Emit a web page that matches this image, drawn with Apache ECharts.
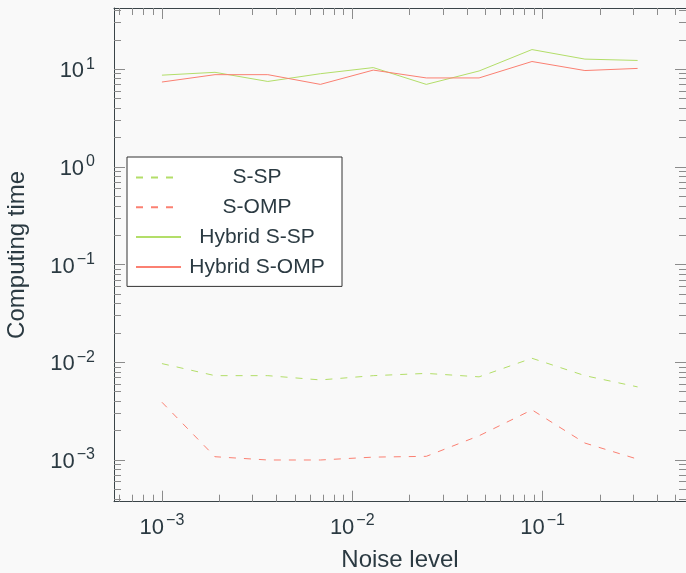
<!DOCTYPE html>
<html>
<head>
<meta charset="utf-8">
<script src="https://cdn.jsdelivr.net/npm/echarts@6/dist/echarts.min.js"></script>
<style>
html,body{margin:0;padding:0;background:#f9f9f9;}
#chart{width:686px;height:573px;}
</style>
</head>
<body>
<div id="chart"></div>
<script>
// ---- data ----
const noiseLevels = [0.001, 0.0019, 0.0036, 0.0068, 0.0129, 0.0245, 0.0464, 0.088, 0.167, 0.316];
const sSP        = [0.0097, 0.0073, 0.0073, 0.0066, 0.0073, 0.0077, 0.0071, 0.0110, 0.0073, 0.0056];
const sOMP       = [0.0039, 0.00108, 0.00100, 0.00100, 0.00107, 0.00109, 0.00177, 0.00326, 0.00149, 0.00102];
const hybridSSP  = [8.7, 9.3, 7.5, 9.0, 10.4, 7.0, 9.6, 15.9, 12.7, 12.3];
const hybridSOMP = [7.4, 8.8, 8.8, 7.0, 9.8, 8.15, 8.15, 12.0, 9.7, 10.2];
const seriesNames = ['S-SP', 'S-OMP', 'Hybrid S-SP', 'Hybrid S-OMP'];
const xTickValues = [0.001, 0.01, 0.1];
const yTickValues = [0.001, 0.01, 0.1, 1, 10];

// axis ranges (log)
const xMin = Math.pow(10, -3.252), xMax = Math.pow(10, -0.246);
const yMin = Math.pow(10, -3.427), yMax = Math.pow(10, 1.627);

function minorTicks(lo, hi) {
  const out = [];
  for (let e = Math.floor(Math.log10(lo)); e <= Math.ceil(Math.log10(hi)); e++) {
    for (let m = 2; m <= 9; m++) {
      const v = m * Math.pow(10, e);
      if (v > lo && v < hi) out.push(v);
    }
  }
  return out;
}
const xMinor = minorTicks(xMin, xMax);
const yMinor = minorTicks(yMin, yMax);

const GREEN = '#b3de69', RED = '#fb8072';
const TXT = '#2b3a42', AXIS = '#3a4448', TICK = '#8c8c8c';
const FONT2 = "'Liberation Sans', sans-serif";

function powLabel(v) {
  const e = Math.round(Math.log10(v));
  return '{b|10}{s|' + (e < 0 ? '\u2212' + (-e) : e) + '}';
}
const labelRich = {
  b: { fontFamily: FONT2, fontSize: 22, color: TXT, verticalAlign: 'bottom', lineHeight: 26 },
  s: { fontFamily: FONT2, fontSize: 16, color: TXT, verticalAlign: 'top', lineHeight: 26, padding: [0, 0, 0, 2] }
};

function mkX(pos, major, showLabel) {
  return {
    type: 'log', logBase: 10, min: xMin, max: xMax, position: pos,
    axisLine: { show: major, lineStyle: { color: AXIS, width: 1 } },
    axisTick: { show: true, inside: true, length: major ? 11 : 7,
      customValues: major ? xTickValues : xMinor,
      lineStyle: { color: TICK, width: 1 } },
    minorTick: { show: false },
    splitLine: { show: false },
    axisLabel: showLabel ? {
      show: true, customValues: xTickValues, formatter: powLabel, rich: labelRich, margin: 11
    } : { show: false },
    name: showLabel ? 'Noise level' : '',
    nameLocation: 'middle', nameGap: 47,
    nameTextStyle: { fontFamily: FONT2, fontSize: 24, color: TXT }
  };
}
function mkY(pos, major, showLabel) {
  return {
    type: 'log', logBase: 10, min: yMin, max: yMax, position: pos,
    axisLine: { show: major, lineStyle: { color: AXIS, width: 1 } },
    axisTick: { show: true, inside: true, length: major ? 11 : 7,
      customValues: major ? yTickValues : yMinor,
      lineStyle: { color: TICK, width: 1 } },
    minorTick: { show: false },
    splitLine: { show: false },
    axisLabel: showLabel ? {
      show: true, customValues: yTickValues, formatter: powLabel, rich: labelRich, margin: 19
    } : { show: false },
    name: showLabel ? 'Computing time' : '',
    nameLocation: 'middle', nameGap: 85, nameRotate: 90,
    nameTextStyle: { fontFamily: FONT2, fontSize: 24, color: TXT }
  };
}

function pairs(ys) { return noiseLevels.map((x, i) => [x, ys[i]]); }
function line(name, ys, color, dashed) {
  return {
    name: name, type: 'line', data: pairs(ys), xAxisIndex: 0, yAxisIndex: 0,
    symbol: 'none', smooth: false, animation: false,
    lineStyle: { color: color, width: 1, type: dashed ? [7, 8] : 'solid' },
    itemStyle: { color: color }
  };
}

const chart = echarts.init(document.getElementById('chart'), null, { renderer: 'canvas' });
chart.setOption({
  animation: false,
  backgroundColor: '#f9f9f9',
  grid: { left: 114, top: 8, width: 572, height: 493.7, containLabel: false, outerBoundsMode: 'none' },
  xAxis: [mkX('bottom', true, true), mkX('bottom', false, false), mkX('top', true, false), mkX('top', false, false)],
  yAxis: [mkY('left', true, true), mkY('left', false, false), mkY('right', true, false), mkY('right', false, false)],
  legend: {
    data: seriesNames,
    orient: 'vertical', left: 127, top: 157,
    padding: [10, 14, 9, 8], itemGap: 8.8,
    itemWidth: 45, itemHeight: 14,
    itemStyle: { color: 'rgba(0,0,0,0)', borderColor: 'rgba(0,0,0,0)', borderWidth: 0, opacity: 0 },
    backgroundColor: '#ffffff', borderColor: '#333', borderWidth: 1, borderRadius: 0,
    formatter: n => '{c|' + n + '}',
    textStyle: { fontFamily: FONT2, fontSize: 21, color: TXT, lineHeight: 20,
      rich: { c: { width: 142, align: 'center', fontFamily: FONT2, fontSize: 21, color: TXT, lineHeight: 20 } } }
  },
  series: [
    line('S-SP', sSP, GREEN, true),
    line('S-OMP', sOMP, RED, true),
    line('Hybrid S-SP', hybridSSP, GREEN, false),
    line('Hybrid S-OMP', hybridSOMP, RED, false)
  ]
});
</script>
</body>
</html>
